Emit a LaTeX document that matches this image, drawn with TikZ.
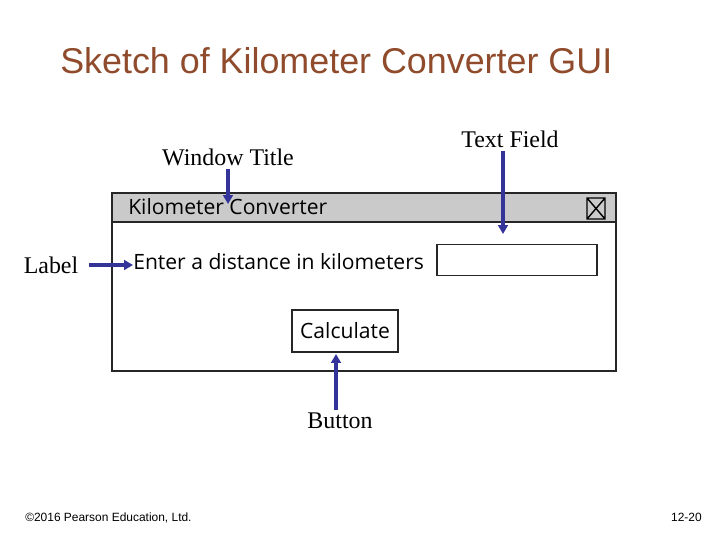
\documentclass[tikz,border=0pt]{standalone}
\usepackage{fontspec}
\setmainfont{Liberation Serif}
\newfontfamily\slidefont{Liberation Sans}
\newfontfamily\sketchfont{Open Sans}
\usepackage{tikz}
\usetikzlibrary{arrows.meta,positioning}
\definecolor{slidebrown}{HTML}{8F4B2B}
\definecolor{pointerblue}{HTML}{333399}
\definecolor{barfill}{HTML}{CACACA}
\tikzset{
  sketchline/.style={draw=black!85,line width=1.1pt},
  sketchtext/.style={font=\sketchfont\fontsize{15}{18}\selectfont,inner sep=0pt},
  widgetbox/.style={draw=black!85,line width=0.9pt,fill=white,inner sep=0pt},
  tagtext/.style={font=\fontsize{17}{20}\selectfont,inner sep=2pt},
  pointer/.style={-{Triangle[length=2.2mm,width=2.4mm]},line width=2.5pt,draw=pointerblue}
}
\begin{document}
\begin{tikzpicture}[x=0.025cm,y=-0.025cm]
\path[use as bounding box] (0,0) rectangle (720,540);
\node[anchor=base west,inner sep=0pt,text=slidebrown,
  font=\slidefont\fontsize{25.5}{30}\selectfont] (slidetitle) at (60,73)
  {Sketch of Kilometer Converter GUI};

% the hand-drawn window
\fill[barfill] (112,193) rectangle (616,222);
\draw[sketchline] (112,222) -- (616,222);
\draw[sketchline] (112,193) rectangle (616,371);
\node[sketchtext,anchor=west] (wintext) at (128,207) {Kilometer Converter};
\draw[line width=1pt] (587,198) rectangle (605,219)
  (587,198) -- (605,219) (605,198) -- (587,219);
\node[sketchtext,anchor=west] (prompt) at (133,262) {Enter a distance in kilometers};
\node[widgetbox,minimum width=4cm,minimum height=0.78cm] (field) at (517,260) {};
\node[widgetbox,sketchtext,minimum width=2.65cm,minimum height=1.05cm] (button)
  at (345,331) {Calculate};

% annotations
\node[tagtext] (wintag) at (228,157) {Window Title};
\node[tagtext] (fieldtag) at (510,139) {Text Field};
\node[tagtext] (labeltag) at (51,265) {Label};
\node[tagtext] (buttontag) at (340,421) {Button};
\coordinate (wintip) at (228,204);
\coordinate (fieldtip) at (503,234);
\coordinate (buttontip) at (336,354);
\draw[pointer] (wintag.south -| wintip) -- (wintip);
\draw[pointer] (fieldtag.south -| fieldtip) -- (fieldtip);
\draw[pointer] (labeltag.east) ++(8,0) -- (prompt.west |- labeltag.east);
\draw[pointer] (buttontag.north -| buttontip) -- (buttontip);

\node[anchor=base west,inner sep=0pt,font=\slidefont\fontsize{8.5}{10}\selectfont]
  (copyright) at (25,521) {\textcopyright 2016 Pearson Education, Ltd.};
\node[anchor=base east,inner sep=0pt,font=\slidefont\fontsize{8.5}{10}\selectfont]
  (pagenum) at (702,521) {12-20};
\end{tikzpicture}
\end{document}
